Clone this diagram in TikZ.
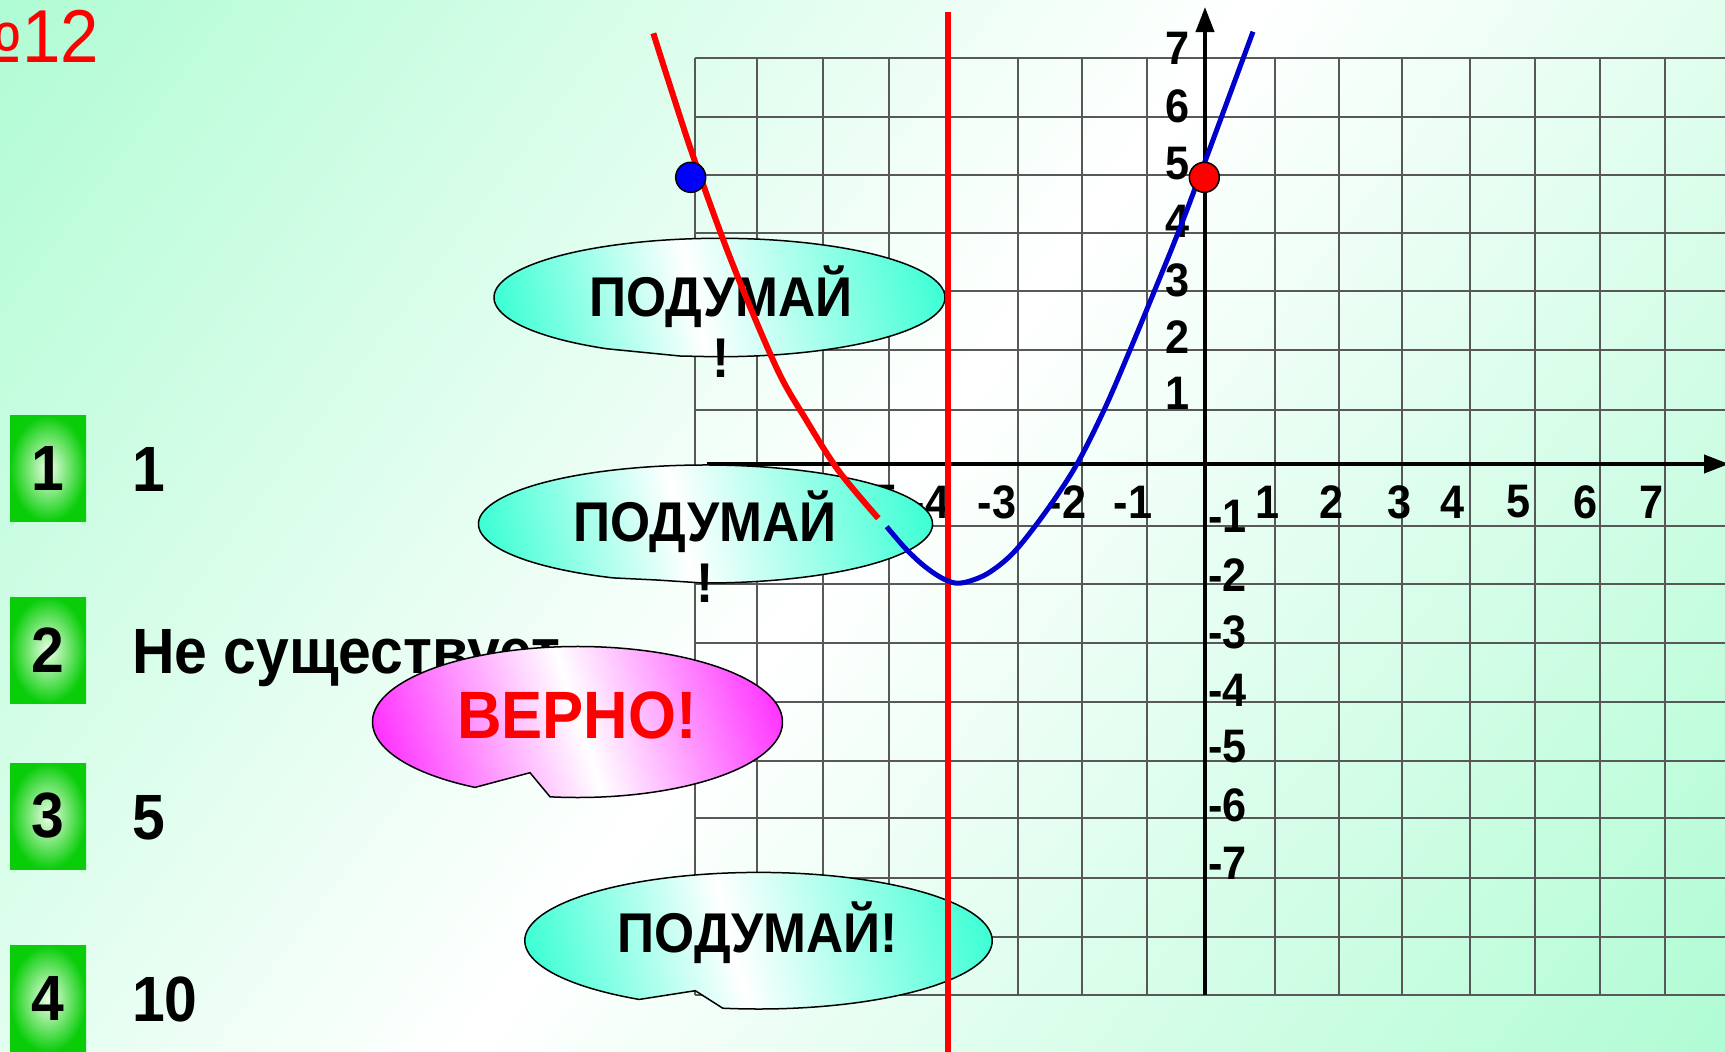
\documentclass[tikz,border=0pt]{standalone}
\usepackage{fontspec}
\setmainfont{Liberation Sans}[FakeStretch=0.92]
\usetikzlibrary{arrows.meta}

\definecolor{bgmint}{RGB}{176,252,212}
\definecolor{gridgray}{RGB}{88,88,88}
\definecolor{bubcyan}{RGB}{60,255,212}
\definecolor{bubpink}{RGB}{255,50,255}
\definecolor{boxgreen}{RGB}{10,205,10}
\definecolor{boxpale}{RGB}{238,255,232}
\definecolor{curveblue}{RGB}{0,0,205}

\pgfdeclarehorizontalshading{slidebg}{100bp}{color(0bp)=(bgmint); color(15bp)=(bgmint); color(50bp)=(white); color(85bp)=(bgmint); color(100bp)=(bgmint)}
\pgfdeclarehorizontalshading{cyanbubble}{100bp}{color(0bp)=(bubcyan); color(25bp)=(bubcyan); color(47bp)=(white); color(75bp)=(bubcyan); color(100bp)=(bubcyan)}
\pgfdeclarehorizontalshading{pinkbubble}{100bp}{color(0bp)=(bubpink); color(25bp)=(bubpink); color(50bp)=(white); color(75bp)=(bubpink); color(100bp)=(bubpink)}

\begin{document}
\begin{tikzpicture}[x=1pt, y=-1pt,
  gridline/.style={draw=gridgray, line width=2.6pt},
  axisline/.style={line width=4pt, -{Triangle[length=25pt, width=18pt]}},
  ticklabel/.style={font=\fontsize{47}{47}\selectfont\bfseries, inner sep=0pt},
  answerbox/.style={shade, inner color=boxpale, outer color=boxgreen, minimum width=76pt, minimum height=106pt, inner sep=0pt, font=\fontsize{64}{64}\selectfont\bfseries},
  answertext/.style={anchor=base west, inner sep=0pt, font=\fontsize{64}{64}\selectfont\bfseries},
  bubble/.style={draw=black, line width=1.5pt},
  bubbletext/.style={inner sep=0pt, align=center, font=\fontsize{56}{61.5}\selectfont\bfseries},
  dot/.style={circle, draw=black, line width=1.5pt, minimum size=30pt, inner sep=0pt}
]

\useasboundingbox (0,0) rectangle (1725,1052);
\shade[shading=slidebg, shading angle=-37] (0,0) rectangle (1725,1052);

\node[anchor=base east, inner sep=0pt, text=red, font=\fontsize{75}{75}\selectfont] (task) at (99,62) {№12};

% grid
\foreach \gx in {695,757,823,889,947,1018,1082,1147,1275,1339,1402,1470,1535,1600,1665}
  \draw[gridline] (\gx,58) -- (\gx,995);
\foreach \gy in {58,117,175,233,291,350,410,526,584,643,702,761,818,878,937,995}
  \draw[gridline] (695,\gy) -- (1725,\gy);

% axes
\coordinate (xfrom) at (707,464);
\coordinate (xto) at (1729,464);
\coordinate (yfrom) at (1205,995);
\coordinate (yto) at (1205,7);
\draw[axisline] (xfrom) -- (xto);
\draw[axisline] (yfrom) -- (yto);

\foreach \lab/\lx in {-5/878,-4/930,-3/997,-2/1067,-1/1133,1/1268,2/1332,3/1400,4/1453,5/1519,6/1586,7/1652}
  \node[ticklabel] (x\lab) at (\lx,502) {\lab};
\foreach \lab/\ly in {7/48.3,6/106.7,5/163.3,4/221.7,3/280,2/336.7,1/393.3}
  \node[ticklabel, anchor=east] (y\lab) at (1190,\ly) {\lab};
\foreach \lab/\ly in {1/516.7,2/575.5,3/632.5,4/690,5/747,6/805,7/863}
  \node[ticklabel, anchor=west] (yn\lab) at (1208,\ly) {-\lab};

% answers
\node[answerbox] (box1) at (48,468.5) {1};
\node[answerbox] (box2) at (48,650) {2};
\node[answerbox] (box3) at (48,816) {3};
\node[answerbox] (box4) at (48,998.8) {4};
\node[answertext] (ans1) at (132,491.5) {1};
\node[answertext] (ans2) at (132,673) {Не существует};
\node[answertext] (ans3) at (132,839) {5};
\node[answertext] (ans4) at (132,1021) {10};

% bubbles
\shadedraw[bubble, shading=cyanbubble, shading angle=13] (719.5,297.5) ++(120:225.5 and 59.2)
  arc[start angle=120, end angle=452, x radius=225.5, y radius=59.2] -- (680,356) -- cycle;
\node[bubbletext] (think1) at (721,321.8) {ПОДУМАЙ\\!};

\shadedraw[bubble, shading=cyanbubble, shading angle=13] (705.5,524) ++(114:227 and 59)
  arc[start angle=114, end angle=450.6, x radius=227, y radius=59] -- (656.7,580) -- cycle;
\node[bubbletext] (think2) at (705,546.6) {ПОДУМАЙ\\!};

\shadedraw[bubble, shading=pinkbubble, shading angle=18] (577.5,722) ++(120:205 and 75.5)
  arc[start angle=120, end angle=457.7, x radius=205, y radius=75.5] -- (530,772.7) -- cycle;
\node[inner sep=0pt, anchor=base, text=red, font=\fontsize{67}{67}\selectfont\bfseries] (correct) at (577,738.3) {ВЕРНО!};

\shadedraw[bubble, shading=cyanbubble, shading angle=14] (758.5,940.7) ++(120.7:233.7 and 68.3)
  arc[start angle=120.7, end angle=458.8, x radius=233.7, y radius=68.3] -- (695.3,990.7) -- cycle;
\node[bubbletext, anchor=base] (think4) at (758,952) {ПОДУМАЙ!};

% axis of symmetry and the two branches
\draw[red, line width=6pt] (948,12) -- (948,1052);
\draw[red, line width=6pt] plot[smooth, tension=0.55] coordinates {(653.3,33.3) (673,95) (693.3,156.7) (723.3,240) (750,306.7) (780,375) (805,418) (838,470) (878.3,518.3)};
\draw[curveblue, line width=5pt] plot[smooth, tension=0.55] coordinates {(886.7,526.7) (905,548) (923,565) (940,577) (955,583) (970,581) (990,572) (1015,551) (1047,510) (1077,464) (1105,408) (1130,350) (1154,292) (1178,233) (1200,175) (1253,31.7)};

\node[dot, fill=blue] (ptA) at (690.7,177.3) {};
\node[dot, fill=red] (ptB) at (1204.3,177.3) {};

\end{tikzpicture}
\end{document}
